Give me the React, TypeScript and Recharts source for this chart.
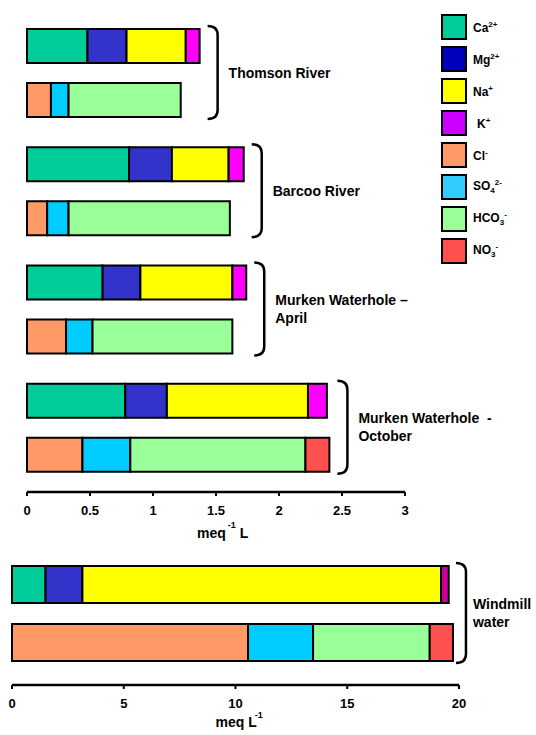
import React from 'react'
import { BarChart, Bar, XAxis, YAxis, LabelList } from 'recharts'

// surface waters (meq/L)
const sites = ['Thomson River', 'Barcoo River', 'Murken Waterhole April', 'Murken Waterhole October']
const siteLines = [['Thomson River'], ['Barcoo River'], ['Murken Waterhole –', 'April'], ['Murken Waterhole  -', 'October']]
const ca = [0.48, 0.81, 0.6, 0.78]
const mg = [0.31, 0.34, 0.3, 0.33]
const na = [0.47, 0.45, 0.73, 1.12]
const k = [0.11, 0.12, 0.11, 0.15]
const cl = [0.19, 0.16, 0.31, 0.44]
const so4 = [0.14, 0.17, 0.21, 0.38]
const hco3 = [0.89, 1.28, 1.11, 1.39]
const no3 = [0, 0, 0, 0.19]
const surfaceTicks = [0, 0.5, 1, 1.5, 2, 2.5, 3]

// windmill water: Ca, Mg, Na, K / Cl, SO4, HCO3, NO3
const windmillCations = [1.5, 1.65, 16.05, 0.34]
const windmillAnions = [10.56, 2.91, 5.22, 1.04]
const windmillLines = ['Windmill', 'water']
const windmillTicks = [0, 5, 10, 15, 20]

const cationKeys = ['ca', 'mg', 'na', 'k']
const anionKeys = ['cl', 'so4', 'hco3', 'no3']
const barColors: Record<string, string> = {
  ca: '#00cc99', mg: '#3333cc', na: '#ffff00', k: '#ff00ff',
  cl: '#ff9966', so4: '#00ccff', hco3: '#99ff99', no3: '#ff5050'
}
const windmillKColor = '#cc0099'

const legendItems = [
  { color: '#00cc99', base: 'Ca', sub: '', sup: '2+' },
  { color: '#0000bb', base: 'Mg', sub: '', sup: '2+' },
  { color: '#ffff00', base: 'Na', sub: '', sup: '+' },
  { color: '#cc00ff', base: 'K', sub: '', sup: '+' },
  { color: '#ff9966', base: 'Cl', sub: '', sup: '-' },
  { color: '#33ccff', base: 'SO', sub: '4', sup: '2-' },
  { color: '#99ff99', base: 'HCO', sub: '3', sup: '-' },
  { color: '#ff5050', base: 'NO', sub: '3', sup: '-' }
]

const surfaceData = sites.map((site, i) => ({
  site, ca: ca[i], mg: mg[i], na: na[i], k: k[i],
  cl: cl[i], so4: so4[i], hco3: hco3[i], no3: no3[i]
}))

const windmillData = [{
  site: 'Windmill water',
  ca: windmillCations[0], mg: windmillCations[1], na: windmillCations[2], k: windmillCations[3],
  cl: windmillAnions[0], so4: windmillAnions[1], hco3: windmillAnions[2], no3: windmillAnions[3]
}]

const FONT = 'Arial, "Liberation Sans", sans-serif'
const tickStyle = { fill: '#000', fontSize: 13, fontWeight: 700 }

// brace + site name, hung off the K segment label so it follows the bar scale
const makeBrace = (rows: any[], lines: string[][], barSize: number, barGap: number, gap: number, textGap: number) => (props: any) => {
  const vb = props.viewBox && typeof props.viewBox.width === 'number' ? props.viewBox : props
  const { x, y, width } = vb
  const i = props.index ?? 0
  const row = rows[i]
  const cat = row.ca + row.mg + row.na + row.k
  const an = row.cl + row.so4 + row.hco3 + row.no3
  const ppu = width / row.k
  const end = x + width + Math.max(0, an - cat) * ppu
  const x0 = end + gap
  const x1 = x0 + 10
  const top = y - 3
  const bot = y + 2 * barSize + barGap + 2
  const r = 9
  const mid = (top + bot) / 2
  const ls = lines[i]
  const first = mid - (ls.length - 1) * 9 + 5
  return (
    <g>
      <path
        d={`M${x0},${top} Q${x1},${top} ${x1},${top + r} L${x1},${bot - r} Q${x1},${bot} ${x0},${bot}`}
        fill="none" stroke="#000" strokeWidth={2.5}
      />
      <text x={x1 + textGap} y={first} fontSize={14} fontWeight={700} fill="#000" style={{ whiteSpace: 'pre' }}>
        {ls.map((l, j) => (
          <tspan key={j} x={x1 + textGap} dy={j === 0 ? 0 : 18}>{l}</tspan>
        ))}
      </text>
    </g>
  )
}

const TopAxisLabel = (props: any) => {
  const { x, y, width } = props.viewBox
  const cx = x + width / 2
  return (
    <text x={cx - 19} y={y + 46} fontSize={14} fontWeight={700} fill="#000">
      meq
      <tspan fontSize={9} dy={-10} dx={2}>-1</tspan>
      <tspan dy={10} dx={4}>L</tspan>
    </text>
  )
}

const BottomAxisLabel = (props: any) => {
  const { x, y, width } = props.viewBox
  const cx = x + width / 2
  return (
    <text x={cx - 20} y={y + 42} fontSize={14} fontWeight={700} fill="#000">
      meq L
      <tspan fontSize={9} dy={-9} dx={-2}>-1</tspan>
    </text>
  )
}

function Legend() {
  return (
    <div style={{ position: 'absolute', left: 441, top: 11 }}>
      {legendItems.map((it, i) => (
        <div key={i} style={{ display: 'flex', alignItems: 'center', height: 32 }}>
          <div style={{
            width: 26, height: 26, boxSizing: 'border-box', background: it.color,
            border: '2.5px solid #000'
          }} />
          <span style={{ marginLeft: it.base === 'K' ? 10 : 6, fontSize: 12, fontWeight: 700 }}>
            {it.base}
            {it.sub && <sub style={{ fontSize: 8 }}>{it.sub}</sub>}
            <sup style={{ fontSize: 8 }}>{it.sup}</sup>
          </span>
        </div>
      ))}
    </div>
  )
}

export default function App() {
  const topBar = 34
  const topGap = 20
  const botBar = 37
  const botGap = 21
  return (
    <div style={{ position: 'absolute', left: 0, top: 0, width: 536, height: 735, fontFamily: FONT, background: '#fff' }}>
      <div style={{ position: 'absolute', left: 0, top: 0 }}>
        <BarChart
          width={536} height={545} data={surfaceData} layout="vertical"
          margin={{ top: 14, right: 131, left: 27, bottom: 3 }}
          barSize={topBar} barGap={topGap}
        >
          <XAxis
            type="number" domain={[0, 3]} ticks={surfaceTicks} height={50}
            axisLine={{ stroke: '#000', strokeWidth: 2.5 }} tickLine={{ stroke: '#000', strokeWidth: 2 }}
            tickSize={4} tickMargin={10} tick={tickStyle} interval={0}
            label={<TopAxisLabel />}
          />
          <YAxis type="category" dataKey="site" hide padding={{ top: 0, bottom: 5 }} />
          {cationKeys.map(key => (
            <Bar key={key} dataKey={key} stackId="cation" fill={barColors[key]} stroke="#000" strokeWidth={2} isAnimationActive={false}>
              {key === 'k' && <LabelList dataKey="k" content={makeBrace(surfaceData, siteLines, topBar, topGap, 8, 11)} />}
            </Bar>
          ))}
          {anionKeys.map(key => (
            <Bar key={key} dataKey={key} stackId="anion" fill={barColors[key]} stroke="#000" strokeWidth={2} isAnimationActive={false} />
          ))}
        </BarChart>
      </div>
      <Legend />
      <div style={{ position: 'absolute', left: 0, top: 545 }}>
        <BarChart
          width={536} height={190} data={windmillData} layout="vertical"
          margin={{ top: 0, right: 77, left: 12, bottom: 5 }}
          barSize={botBar} barGap={botGap}
        >
          <XAxis
            type="number" domain={[0, 20]} ticks={windmillTicks} height={45}
            axisLine={{ stroke: '#000', strokeWidth: 2.5 }} tickLine={{ stroke: '#000', strokeWidth: 2 }}
            tickSize={4} tickMargin={10} tick={tickStyle} interval={0}
            label={<BottomAxisLabel />}
          />
          <YAxis type="category" dataKey="site" hide padding={{ top: 0, bottom: 3 }} />
          {cationKeys.map(key => (
            <Bar key={key} dataKey={key} stackId="cation" fill={key === 'k' ? windmillKColor : barColors[key]} stroke="#000" strokeWidth={2} isAnimationActive={false}>
              {key === 'k' && <LabelList dataKey="k" content={makeBrace(windmillData, [windmillLines], botBar, botGap, 3, 7)} />}
            </Bar>
          ))}
          {anionKeys.map(key => (
            <Bar key={key} dataKey={key} stackId="anion" fill={barColors[key]} stroke="#000" strokeWidth={2} isAnimationActive={false} />
          ))}
        </BarChart>
      </div>
    </div>
  )
}
